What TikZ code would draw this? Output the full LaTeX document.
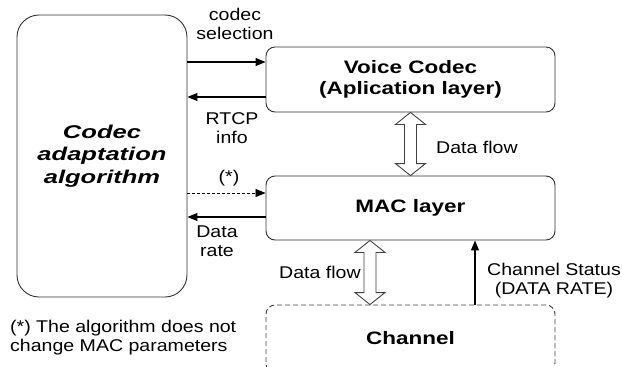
\documentclass[tikz,border=0pt]{standalone}
\usepackage{fontspec}
\setmainfont[FakeStretch=1.15]{Liberation Sans}
\newfontfamily\boxfont[FakeStretch=1.25]{Liberation Sans}
\newfontfamily\algfont[FakeStretch=1.38]{Liberation Sans}
\usetikzlibrary{arrows.meta,calc}
\begin{document}
\begin{tikzpicture}[x=1pt,y=-1pt,
  box/.style={draw=black!80,line width=0.9pt,rounded corners=9pt,minimum width=289pt,inner sep=0pt,font=\boxfont\fontsize{18}{21}\selectfont\bfseries,align=center},
  lbl/.style={font=\fontsize{17}{19}\selectfont,align=center,inner sep=0pt},
  sig/.style={line width=1.2pt,-{Triangle[length=10pt,width=8pt]}},
  flow/.style={draw=black!75,line width=0.9pt,fill=white}]
\useasboundingbox (0,0) rectangle (622,367);
\clip (0,0) rectangle (622,367);

% blocks
\node[draw=black!80,line width=0.9pt,rounded corners=22pt,minimum width=170pt,minimum height=282pt,
  font=\algfont\fontsize{18.5}{22.5}\selectfont\bfseries\itshape,align=center] (alg) at (102,156) {Codec\\adaptation\\algorithm};
\node[box,minimum height=65pt] (vc) at (410.5,79.5) {Voice Codec\\(Aplication layer)};
\node[box,minimum height=64pt] (mac) at (410.5,208) {MAC layer};
\node[box,draw=black!75,dash pattern=on 5pt off 3pt,minimum height=67pt] (chan) at (410.5,338.5) {Channel};

% control signals
\draw[sig] ([yshift=17.5pt]vc.west -| alg.east) -- ([yshift=17.5pt]vc.west);
\draw[sig] ([yshift=-17.5pt]vc.west) -- ([yshift=-17.5pt]vc.west -| alg.east);
\draw[sig,line width=0.8pt,densely dashed] ([yshift=15pt]mac.west -| alg.east) -- ([yshift=15pt]mac.west);
\draw[sig] ([yshift=-9pt]mac.west) -- ([yshift=-9pt]mac.west -| alg.east);

\node[lbl] (lsel) at (235,24) {codec\\selection};
\node[lbl] (lrtcp) at (232,128) {RTCP\\info};
\node[lbl] (lstar) at (229,178) {(*)};
\node[lbl] (lrate) at (217,241) {Data\\rate};

% data flow between layers
\coordinate (f1) at (410.5,0);
\coordinate (f2) at (370,0);
\draw[flow] let \p1=(vc.south -| f1), \p2=(mac.north -| f1) in
  (\x1,\y1) -- (\x1+15pt,\y1-12pt) -- (\x1+6pt,\y1-12pt) -- (\x1+6pt,\y2+12pt) -- (\x1+15pt,\y2+12pt)
  -- (\x1,\y2) -- (\x1-15pt,\y2+12pt) -- (\x1-6pt,\y2+12pt) -- (\x1-6pt,\y1-12pt) -- (\x1-15pt,\y1-12pt) -- cycle;
\draw[flow] let \p1=(mac.south -| f2), \p2=(chan.north -| f2) in
  (\x1,\y1) -- (\x1+15pt,\y1-12pt) -- (\x1+6pt,\y1-12pt) -- (\x1+6pt,\y2+12pt) -- (\x1+15pt,\y2+12pt)
  -- (\x1,\y2) -- (\x1-15pt,\y2+12pt) -- (\x1-6pt,\y2+12pt) -- (\x1-6pt,\y1-12pt) -- (\x1-15pt,\y1-12pt) -- cycle;
\node[lbl,anchor=west] (lflow1) at (436,147) {Data flow};
\node[lbl,anchor=west] (lflow2) at (279,272) {Data flow};

% channel status
\coordinate (cs) at (475,0);
\draw[sig] (chan.north -| cs) -- (mac.south -| cs);
\node[lbl] (lcs) at (554,281) {Channel Status\\(DATA RATE)};

% footnote
\node[lbl,anchor=west,align=left] (note) at (10,338) {(*) The algorithm does not\\change MAC parameters};
\end{tikzpicture}
\end{document}
